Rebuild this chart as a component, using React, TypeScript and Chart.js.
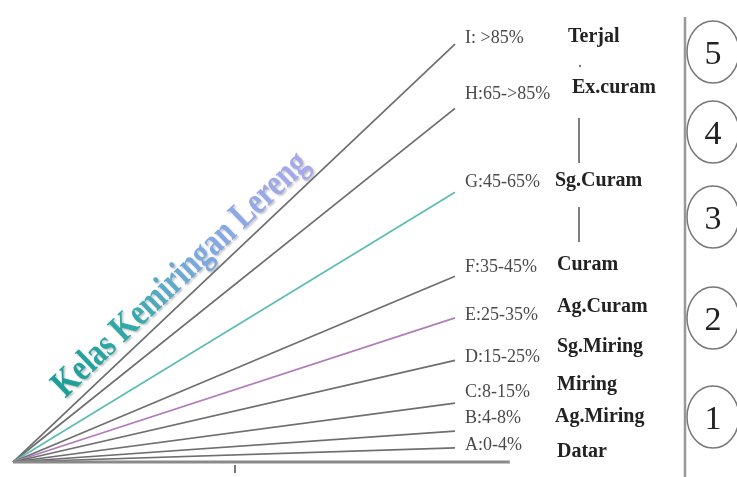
import { useEffect, useRef } from "react";
import { Chart, registerables } from "chart.js";
Chart.register(...registerables);

// ---- data ----
const classCodes = ["A", "B", "C", "D", "E", "F", "G", "H", "I"];
const rangeLabels = ["A:0-4%", "B:4-8%", "C:8-15%", "D:15-25%", "E:25-35%", "F:35-45%", "G:45-65%", "H:65->85%", "I: >85%"];
// rise (in %) of each slope line at a run of 100
const slopeRise = [3.2, 7, 13.3, 23, 32.6, 42, 61, 80, 94.5];
const runLength = 100;
const baseLength = 112.4;
const classNames = ["Datar", "Ag.Miring", "Miring", "Sg.Miring", "Ag.Curam", "Curam", "Sg.Curam", "Ex.curam", "Terjal"];
const classNumbers = ["1", "2", "3", "4", "5"];
const titleText = "Kelas Kemiringan Lereng";

// ---- layout (pixels) ----
const LAYOUT = {
  rangeLabelX: 465,
  rangeLabelY: [445, 418, 392, 357, 315, 267, 182, 94, 38],
  classNameX: [557, 555, 557, 557, 557, 557, 555, 572, 568],
  classNameY: [452, 417, 385, 347, 307, 265, 181, 88, 37],
  circleX: 713,
  circleY: [417, 318, 217, 132, 52],
  sepX: 685,
};

const lineColors = ["#6e6e6e", "#6e6e6e", "#6e6e6e", "#6e6e6e", "#b27cba", "#6e6e6e", "#5cbdb4", "#6e6e6e", "#6e6e6e"];

const overlay = {
  id: "overlay",
  beforeDatasetsDraw(chart: any) {
    const ctx = chart.ctx as CanvasRenderingContext2D;
    // title
    ctx.save();
    ctx.translate(181, 275);
    ctx.rotate((-43.5 * Math.PI) / 180);
    ctx.scale(1, 1.25);
    ctx.font = "bold 30px 'Liberation Serif'";
    const w0 = ctx.measureText(titleText).width;
    const size = (30 * 338) / w0;
    ctx.font = `bold ${size}px 'Liberation Serif'`;
    const w = ctx.measureText(titleText).width;
    const g = ctx.createLinearGradient(-w / 2, 0, w / 2, 0);
    g.addColorStop(0, "#1a9e96");
    g.addColorStop(0.3, "#33aaa8");
    g.addColorStop(0.55, "#78a8e0");
    g.addColorStop(1, "#aaa8ee");
    ctx.fillStyle = g;
    ctx.textAlign = "center";
    ctx.textBaseline = "middle";
    ctx.shadowColor = "rgba(0,0,0,0.25)";
    ctx.shadowOffsetX = 1.5;
    ctx.shadowOffsetY = 1.5;
    ctx.shadowBlur = 2;
    ctx.fillText(titleText, 0, 0);
    ctx.restore();
  },
  afterDatasetsDraw(chart: any) {
    const ctx = chart.ctx as CanvasRenderingContext2D;
    ctx.save();
    // range labels
    ctx.font = "18px 'Liberation Serif'";
    ctx.fillStyle = "#4a4a4a";
    ctx.textAlign = "left";
    ctx.textBaseline = "middle";
    rangeLabels.forEach((t, i) => ctx.fillText(t, LAYOUT.rangeLabelX, LAYOUT.rangeLabelY[i]));
    // class names
    ctx.font = "bold 20px 'Liberation Serif'";
    ctx.fillStyle = "#222";
    classNames.forEach((t, i) => ctx.fillText(t, LAYOUT.classNameX[i], LAYOUT.classNameY[i]));
    // separators between class names
    ctx.strokeStyle = "#555";
    ctx.lineWidth = 1.5;
    ctx.beginPath();
    ctx.moveTo(579, 118);
    ctx.lineTo(579, 163);
    ctx.moveTo(579, 207);
    ctx.lineTo(579, 242);
    ctx.stroke();
    ctx.fillStyle = "#777";
    ctx.beginPath();
    ctx.arc(580, 66, 1.2, 0, Math.PI * 2);
    ctx.fill();
    // vertical divider
    ctx.strokeStyle = "#999";
    ctx.lineWidth = 2.5;
    ctx.beginPath();
    ctx.moveTo(LAYOUT.sepX, 17);
    ctx.lineTo(LAYOUT.sepX, 477);
    ctx.stroke();
    // circled class numbers
    ctx.font = "34px 'Liberation Serif'";
    ctx.textAlign = "center";
    classNumbers.forEach((n, i) => {
      const cy = LAYOUT.circleY[i];
      ctx.strokeStyle = "#777";
      ctx.lineWidth = 1.5;
      ctx.beginPath();
      ctx.ellipse(LAYOUT.circleX, cy, 26, 31, 0, 0, Math.PI * 2);
      ctx.stroke();
      ctx.fillStyle = "#222";
      ctx.fillText(n, LAYOUT.circleX, cy + 3);
    });
    // small tick on baseline
    ctx.strokeStyle = "#777";
    ctx.lineWidth = 2;
    ctx.beginPath();
    ctx.moveTo(235, 465);
    ctx.lineTo(235, 473);
    ctx.stroke();
    ctx.restore();
  },
};

export default function App() {
  const ref = useRef<HTMLCanvasElement | null>(null);
  useEffect(() => {
    document.body.style.margin = "0";
    if (!ref.current) return;
    const datasets: any[] = slopeRise.map((r, i) => ({
      label: classCodes[i],
      data: [
        { x: 0, y: 0 },
        { x: runLength, y: r },
      ],
      borderColor: lineColors[i],
      borderWidth: 1.7,
      showLine: true,
      pointRadius: 0,
    }));
    datasets.unshift({
      label: "base",
      data: [
        { x: 0, y: 0 },
        { x: baseLength, y: 0 },
      ],
      borderColor: "#8a8a8a",
      borderWidth: 3,
      showLine: true,
      pointRadius: 0,
    });
    const chart = new Chart(ref.current, {
      type: "scatter",
      data: { datasets },
      options: {
        responsive: false,
        animation: false,
        layout: { padding: 0 },
        plugins: { legend: { display: false }, tooltip: { enabled: false } },
        scales: {
          x: { type: "linear", min: -2.94, max: 163.8, display: false },
          y: { type: "linear", min: -3.39, max: 104.5, display: false },
        },
      },
      plugins: [overlay],
    });
    return () => chart.destroy();
  }, []);
  return (
    <div style={{ position: "absolute", left: 0, top: 0, width: 737, height: 477, background: "#fff" }}>
      <canvas ref={ref} width={737} height={477} />
    </div>
  );
}
